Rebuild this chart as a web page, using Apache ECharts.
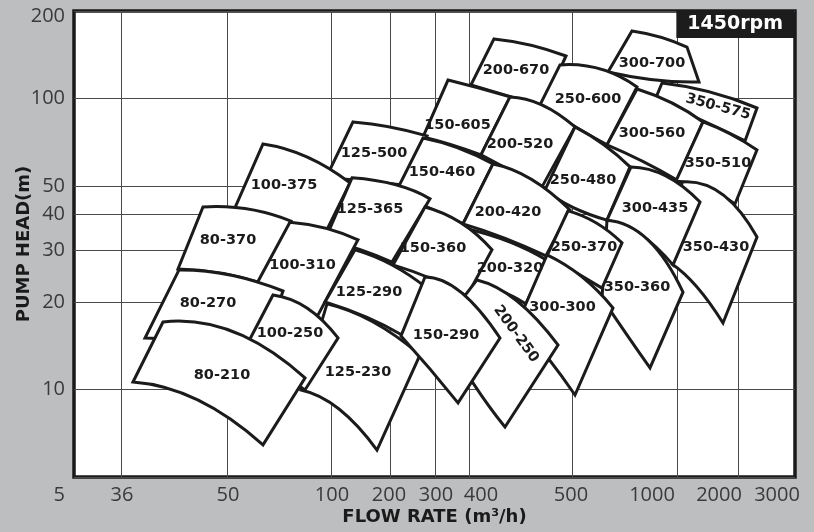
<!DOCTYPE html>
<html><head><meta charset="utf-8">
<script src="https://cdn.jsdelivr.net/npm/echarts@6/dist/echarts.min.js"></script>
<style>html,body{margin:0;padding:0;background:#bdbec0}#c{width:814px;height:532px}</style>
</head><body><div id="c"></div>
<script>
// x = position along the (non-uniform) flow scale, y = pump head (m, log axis)
const models = ['300-700','200-670','250-600','150-605','350-575','300-560','200-520','125-500','350-510','250-480',
  '150-460','100-375','350-430','300-435','200-420','125-365','350-360','200-320','80-370','150-360',
  '250-370','100-310','125-230','125-290','300-300','80-270','200-250','150-290','100-250','80-210'];
const topLeft = [[558,170.8],[420,160.3],[486,130.5],[374,115.8],[588,113.1],[563,107.9],[436,101.3],[279,83.1],[629,83.1],[501,79.9],
  [349,73.2],[189,69.8],[608,51.7],[557,58.2],[419,59.6],[278,53.4],[533,38.2],[394,35.6],[129,42.4],[351,42.4],
  [494,41.1],[216,37.6],[253,19.68],[281,30.2],[473,29.0],[105,25.75],[403,23.79],[351,24.37],[199,21.13],[89,17.06]];
const topRight = [[613,150.4],[492,140.1],[563,109.6],[436,101.3],[683,92.8],[629,83.1],[501,79.9],[353,74.4],[683,66.6],[556,58.2],
  [419,59.6],[276,51.3],[683,33.4],[626,44.1],[496,41.4],[356,45.2],[609,21.6],[472,27.9],[217,37.9],[418,30.2],
  [548,31.9],[284,32.7],[346,13.14],[353,22.3],[539,19.06],[209,21.8],[484,14.22],[426,15.03],[264,15.03],[231,10.95]];
const bottomRight = [[625,114.0],[469,94.3],[533,69.3],[407,64.0],[671,71.5],[603,52.5],[468,49.7],[328,50.5],[661,43.4],[533,38.2],
  [389,37.1],[248,32.7],[649,16.93],[599,26.8],[472,28.8],[318,27.4],[576,11.86],[452,19.68],[188,23.2],[393,20.96],
  [528,22.3],[243,17.75],[303,6.19],[328,15.39],[501,9.57],[188,13.45],[431,7.43],[384,8.99],[231,9.96],[189,6.45]];
const bottomLeft = [[534,123.4],[397,111.4],[466,95.1],[349,73.8],[581,98.9],[533,69.3],[407,64.0],[252,53.4],[602,52.1],[471,48.5],
  [321,47.0],[153,36.5],[598,27.0],[533,38.2],[389,37.1],[251,32.7],[528,20.6],[396,23.05],[104,25.96],[319,26.8],
  [473,28.8],[174,20.31],[227,9.96],[251,19.99],[444,17.06],[71,15.03],[366,16.27],[327,15.27],[166,12.83],[59,10.61]];
const topMid = [[586,162.8],[456,152.8],[526,126.4],[405,108.7],[636,105.4],[598,96.6],[468,95.1],[316,79.9],[656,75.6],[530,69.3],
  [384,67.7],[233,63.0],[648,47.0],[592,54.2],[457,52.9],[322,50.5],[574,32.7],[436,32.1],[174,41.7],[387,37.4],
  [522,37.4],[251,35.9],[299,17.06],[318,26.8],[508,24.37],[156,24.75],[443,20.15],[387,21.6],[233,19.06],[160,15.76]];
const bottomMid = [[581,115.8],[434,102.1],[500,80.5],[378,69.3],[629,83.8],[568,61.0],[437,56.4],[291,52.1],[632,49.3],[498,42.4],
  [355,42.1],[201,34.8],[623,22.5],[566,34.2],[430,33.2],[284,30.4],[553,15.39],[424,21.98],[146,25.15],[358,23.99],
  [501,25.35],[209,19.99],[265,8.57],[292,17.75],[474,12.83],[131,14.57],[399,10.53],[356,11.76],[198,11.67],[124,9.20]];
const labelAt = [[578,132.6],[442,125.4],[514,99.7],[383.5,81.2],[644,93.6],[578,76.1],[446,69.8],[300,65.0],[644,60.1],[509,52.5],
  [368,55.9],[210,50.5],[642,30.9],[581,42.1],[434,40.8],[296,41.7],[563,22.5],[436,26.2],[154,32.7],[359,30.6],
  [510,30.9],[228.5,26.8],[284,11.49],[295,21.6],[488.5,19.21],[134,19.83],[442,15.51],[372,15.39],[216,15.64],[148,11.21]];
const labelTilt = {'350-575': -15, '200-250': -54};
const gridX = [47.7, 153.3, 257.3, 316.3, 361.7, 395.3, 498.7, 603.7, 664.7];
const flowLabelAt = [48, 154, 258, 315, 362, 407, 497, 578, 645, 703];
const flowLabels = ['36','50','100','200','300','400','500','1000','2000','3000'];
const headTicks = [5, 10, 20, 30, 40, 50, 100, 200];

const chart = echarts.init(document.getElementById('c'), null, {renderer: 'canvas'});
const tickFont = {fontSize: 20, fontFamily: 'Open Sans', color: '#3a3a3a'};
const nameFont = {fontSize: 18, fontFamily: 'DejaVu Sans', fontWeight: 'bold', color: '#1a1a1a'};
chart.setOption({
  animation: false,
  backgroundColor: '#bdbec0',
  title: {text: '1450rpm', right: 20, top: 11, backgroundColor: '#1c1c1c', padding: [4, 11, 4, 11],
    textStyle: {color: '#fff', fontSize: 19, fontWeight: 'bold', fontFamily: 'DejaVu Sans', lineHeight: 19}},
  grid: {left: 74, right: 19, top: 11, bottom: 55, show: true, outerBoundsMode: 'none', containLabel: false,
    backgroundColor: '#fff', borderColor: '#1a1a1a', borderWidth: 3.5},
  xAxis: {type: 'value', min: 0, max: 721,
    axisLine: {show: false}, axisTick: {show: false, customValues: gridX},
    splitLine: {show: true, lineStyle: {color: '#4a4a4a', width: 1}},
    axisLabel: Object.assign({customValues: flowLabelAt, margin: 8,
      formatter: v => flowLabels[flowLabelAt.indexOf(v)]}, tickFont),
    name: 'FLOW RATE (m³/h)', nameLocation: 'middle', nameGap: 31, nameMoveOverlap: false, nameTextStyle: nameFont},
  yAxis: {type: 'log', logBase: 10, min: 5, max: 200,
    axisLine: {show: false}, axisTick: {show: false, customValues: headTicks},
    splitLine: {show: true, lineStyle: {color: '#4a4a4a', width: 1}},
    axisLabel: Object.assign({customValues: headTicks, margin: 9,
      formatter: v => { const r = Math.round(v); return r === 5 ? '{low|5}' : r === 200 ? '{top|200}' : String(r); },
      rich: {low: Object.assign({padding: [36, 0, 0, 0]}, tickFont), top: Object.assign({padding: [10, 0, 0, 0]}, tickFont)}}, tickFont),
    name: 'PUMP HEAD(m)', nameLocation: 'middle', nameRotate: 90, nameGap: 41, nameMoveOverlap: false, nameTextStyle: nameFont},
  series: [{
    type: 'custom',
    data: models.map((m, i) => [labelAt[i][0], labelAt[i][1], i]),
    encode: {x: 0, y: 1},
    renderItem: function (params, api) {
      const i = api.value(2);
      const P = pt => api.coord(pt);
      const tl = P(topLeft[i]), tr = P(topRight[i]), br = P(bottomRight[i]), bl = P(bottomLeft[i]);
      const tm = P(topMid[i]), bm = P(bottomMid[i]);
      const ctrl = (a, m, b) => [2 * m[0] - (a[0] + b[0]) / 2, 2 * m[1] - (a[1] + b[1]) / 2];
      const ct = ctrl(tl, tm, tr), cb = ctrl(br, bm, bl);
      const f = p => p[0].toFixed(2) + ' ' + p[1].toFixed(2);
      const d = 'M' + f(tl) + ' Q' + f(ct) + ' ' + f(tr) + ' L' + f(br) + ' Q' + f(cb) + ' ' + f(bl) + ' Z';
      const lp = P(labelAt[i]);
      return {type: 'group', children: [
        {type: 'path', shape: {pathData: d}, z2: i,
          style: {fill: '#fff', stroke: '#1b1b1b', lineWidth: 3, lineJoin: 'miter'}},
        {type: 'text', x: lp[0], y: lp[1], z2: 100 + i,
          rotation: (labelTilt[models[i]] || 0) * Math.PI / 180,
          style: {text: models[i], fill: '#1b1b1b', fontSize: 14.5, fontWeight: 'bold', fontFamily: 'DejaVu Sans',
            align: 'center', verticalAlign: 'middle'}}
      ]};
    }
  }]
});
</script></body></html>
